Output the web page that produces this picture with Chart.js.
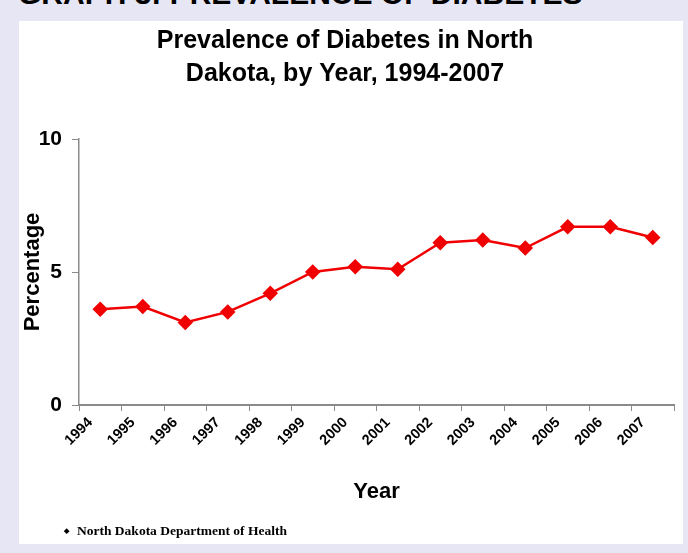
<!DOCTYPE html>
<html>
<head>
<meta charset="utf-8">
<script src="https://cdn.jsdelivr.net/npm/chart.js@4.4.1/dist/chart.umd.min.js"></script>
<style>
  body { margin: 0; background: #e6e6f5; }
  #page { position: relative; width: 688px; height: 553px; overflow: hidden; background: #e6e6f5; }
  #heading {
    position: absolute; left: 18px; top: -23px;
    font: bold 30px "Liberation Sans", Arial, sans-serif; color: #000; white-space: nowrap;
  }
  #box { position: absolute; left: 19px; top: 21px; width: 664px; height: 523px; background: #fff; }
  #chartWrap { position: absolute; left: 0; top: 0; width: 688px; height: 553px; }
  #source {
    position: absolute; left: 64px; top: 523px;
    font: bold 13.5px "Liberation Serif", "Times New Roman", serif; color: #000;
  }
  #source span { font-size: 7px; vertical-align: 2px; margin-right: 8px; }
</style>
</head>
<body>
<div id="page">
  <div id="heading">GRAPH 3: PREVALENCE OF DIABETES</div>
  <div id="box"></div>
  <div id="chartWrap"><canvas id="diabetesChart"></canvas></div>
  <div id="source"><span>&#9670;</span>North Dakota Department of Health</div>
</div>
<script>
// years on the x axis and prevalence (%)
const years = ["1994", "1995", "1996", "1997", "1998", "1999", "2000",
  "2001", "2002", "2003", "2004", "2005", "2006", "2007"];
const prevalence = [3.6, 3.7, 3.1, 3.5, 4.2, 5.0, 5.2, 5.1, 6.1, 6.2, 5.9, 6.7, 6.7, 6.3];
const yTicks = [0, 5, 10];

const axisGray = "#8a8a8a";
const fontFamily = '"Liberation Sans", Arial, sans-serif';

const ctx = document.getElementById("diabetesChart").getContext("2d");
const chart = new Chart(ctx, {
  type: "line",
  data: {
    labels: years,
    datasets: [
      {
        label: "Prevalence",
        data: prevalence,
        borderColor: "#f00000",
        backgroundColor: "#f00000",
        borderWidth: 2.5,
        pointStyle: "rectRot",
        pointRadius: 6,
        pointHoverRadius: 6,
        tension: 0,
      },
    ],
  },
  options: {
    responsive: true,
    maintainAspectRatio: false,
    animation: false,
    layout: { padding: { left: 16, right: 14, top: 14, bottom: 44 } },
    plugins: {
      legend: { display: false },
      tooltip: { enabled: false },
      title: {
        display: true,
        text: ["Prevalence of Diabetes in North", "Dakota, by Year, 1994-2007"],
        color: "#000",
        font: { family: fontFamily, size: 25, weight: "bold", lineHeight: 1.3 },
        padding: { top: 11, bottom: 49 },
      },
    },
    scales: {
      x: {
        offset: true,
        grid: {
          offset: true,
          drawOnChartArea: false,
          color: axisGray,
          tickLength: 6,
        },
        border: { color: axisGray, width: 2 },
        ticks: {
          color: "#000",
          minRotation: 45,
          maxRotation: 45,
          labelOffset: -10,
          font: { family: fontFamily, size: 14.5, weight: "bold" },
        },
        title: {
          display: true,
          text: "Year",
          color: "#000",
          font: { family: fontFamily, size: 22, weight: "bold" },
        },
        afterFit: (scale) => { scale.height = 104; },
      },
      y: {
        min: 0,
        max: 10,
        afterBuildTicks: (scale) => {
          scale.ticks = yTicks.map((v) => ({ value: v }));
        },
        grid: {
          drawOnChartArea: false,
          color: axisGray,
          tickLength: 7,
        },
        border: { color: axisGray, width: 1.5 },
        ticks: {
          color: "#000",
          padding: 10,
          font: { family: fontFamily, size: 21, weight: "bold" },
        },
        title: {
          display: true,
          text: "Percentage",
          color: "#000",
          font: { family: fontFamily, size: 22, weight: "bold" },
        },
        afterFit: (scale) => { scale.width = 63; },
      },
    },
  },
});
</script>
</body>
</html>
